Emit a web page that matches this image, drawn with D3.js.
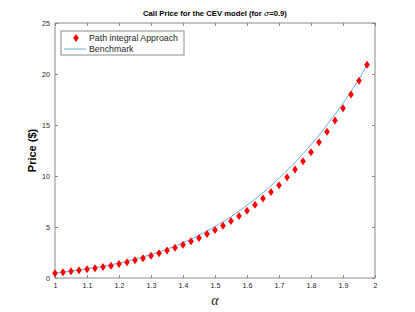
<!DOCTYPE html>
<html>
<head>
<meta charset="utf-8">
<script src="https://cdn.jsdelivr.net/npm/d3@7"></script>
<style>
  body { margin: 0; background: #fff; }
  svg { display: block; font-family: "Liberation Sans", Arial, sans-serif; }
</style>
</head>
<body>
<div id="grafica"></div>
<script>
  // datos
  const alphas = [1.0, 1.025, 1.05, 1.075, 1.1, 1.125, 1.15, 1.175, 1.2, 1.225,
    1.25, 1.275, 1.3, 1.325, 1.35, 1.375, 1.4, 1.425, 1.45, 1.475,
    1.5, 1.525, 1.55, 1.575, 1.6, 1.625, 1.65, 1.675, 1.7, 1.725,
    1.75, 1.775, 1.8, 1.825, 1.85, 1.875, 1.9, 1.925, 1.95, 1.975];
  const pathIntegral = [0.46, 0.56, 0.66, 0.75, 0.85, 0.95, 1.08, 1.21, 1.37, 1.54,
    1.73, 1.93, 2.17, 2.42, 2.70, 2.97, 3.27, 3.6, 3.92, 4.31,
    4.71, 5.13, 5.59, 6.08, 6.6, 7.19, 7.8, 8.42, 9.09, 9.88,
    10.64, 11.45, 12.32, 13.31, 14.34, 15.44, 16.65, 17.99, 19.34, 20.9];
  const benchmark = [0.5, 0.58, 0.68, 0.78, 0.9, 1.02, 1.15, 1.3, 1.47, 1.65,
    1.85, 2.07, 2.3, 2.55, 2.82, 3.12, 3.45, 3.8, 4.18, 4.6,
    5.05, 5.52, 6.02, 6.56, 7.13, 7.73, 8.37, 9.05, 9.77, 10.53,
    11.33, 12.18, 13.07, 14.01, 15.0, 16.04, 17.13, 18.28, 19.45, 20.95];
  const xTicks = [1, 1.1, 1.2, 1.3, 1.4, 1.5, 1.6, 1.7, 1.8, 1.9, 2];
  const yTicks = [0, 5, 10, 15, 20, 25];
  const legendNames = ["Path integral Approach", "Benchmark"];

  const width = 415, height = 312;
  const margin = { left: 55, right: 40, top: 23, bottom: 34 };
  const axisColor = "#8a8a8a";
  const textColor = "#262626";

  const svg = d3.select("#grafica")
    .append("svg")
    .attr("width", width)
    .attr("height", height);

  const x = d3.scaleLinear().domain([1, 2]).range([margin.left, width - margin.right]);
  const y = d3.scaleLinear().domain([0, 25]).range([height - margin.bottom, margin.top]);

  // Ejes (caja estilo matlab)
  const tl = 3;
  svg.append("g")
    .attr("transform", `translate(0,${y(0)})`)
    .call(d3.axisBottom(x).tickValues(xTicks).tickSize(-tl).tickPadding(5).tickFormat(d3.format("")))
    .call(g => g.select(".domain").remove());
  svg.append("g")
    .attr("transform", `translate(0,${y(25)})`)
    .call(d3.axisTop(x).tickValues(xTicks).tickSize(-tl).tickFormat(""))
    .call(g => g.select(".domain").remove());
  svg.append("g")
    .attr("transform", `translate(${x(1)},0)`)
    .call(d3.axisLeft(y).tickValues(yTicks).tickSize(-tl).tickPadding(5))
    .call(g => g.select(".domain").remove());
  svg.append("g")
    .attr("transform", `translate(${x(2)},0)`)
    .call(d3.axisRight(y).tickValues(yTicks).tickSize(-tl).tickFormat(""))
    .call(g => g.select(".domain").remove());

  svg.selectAll(".tick line").attr("stroke", axisColor);
  svg.selectAll(".tick text")
    .attr("fill", textColor)
    .style("font-size", "7.2px")
    .style("font-family", "Liberation Sans, Arial, sans-serif");

  svg.append("rect")
    .attr("x", x(1)).attr("y", y(25))
    .attr("width", x(2) - x(1)).attr("height", y(0) - y(25))
    .attr("fill", "none").attr("stroke", axisColor).attr("stroke-width", 1);

  // Linea benchmark
  const linea = d3.line()
    .x((d, i) => x(alphas[i]))
    .y(d => y(d));

  svg.append("path")
    .datum(benchmark)
    .attr("d", linea)
    .attr("fill", "none")
    .attr("stroke", "#3f9fdc")
    .attr("stroke-width", 0.8);

  // Rombos
  const rombo = "M0,-4 L2.8,0 L0,4 L-2.8,0 Z";
  svg.append("g")
    .selectAll("path")
    .data(pathIntegral)
    .enter()
    .append("path")
    .attr("d", rombo)
    .attr("transform", (d, i) => `translate(${x(alphas[i])},${y(d)})`)
    .attr("fill", "#ff0000");

  // Titulo
  const titulo = svg.append("text")
    .attr("x", (x(1) + x(2)) / 2)
    .attr("y", 16)
    .attr("text-anchor", "middle")
    .style("font-size", "7.7px")
    .style("font-weight", "bold")
    .attr("fill", "#000");
  titulo.append("tspan").text("Call Price for the CEV model (for ");
  titulo.append("tspan").text("σ").style("font-style", "italic").style("font-weight", "normal")
    .style("font-family", "DejaVu Serif, serif");
  titulo.append("tspan").text("=0.9)");

  // Etiquetas ejes
  svg.append("text")
    .attr("x", (x(1) + x(2)) / 2)
    .attr("y", 305)
    .attr("text-anchor", "middle")
    .style("font-size", "14px")
    .style("font-style", "italic")
    .style("font-family", "Liberation Serif, Times New Roman, serif")
    .attr("fill", textColor)
    .text("α");

  svg.append("text")
    .attr("transform", `translate(36,${(y(0) + y(25)) / 2}) rotate(-90)`)
    .attr("text-anchor", "middle")
    .style("font-size", "11px")
    .style("font-weight", "bold")
    .attr("fill", "#000")
    .text("Price ($)");

  // Leyenda
  const leg = svg.append("g");
  leg.append("rect")
    .attr("x", 61).attr("y", 31).attr("width", 123).attr("height", 24)
    .attr("fill", "#fff").attr("stroke", axisColor).attr("stroke-width", 1);
  leg.append("path")
    .attr("d", rombo)
    .attr("transform", "translate(76,38)")
    .attr("fill", "#ff0000");
  leg.append("line")
    .attr("x1", 64).attr("x2", 86).attr("y1", 49).attr("y2", 49)
    .attr("stroke", "#3f9fdc").attr("stroke-width", 0.8);
  leg.selectAll("text.nombre")
    .data(legendNames)
    .enter()
    .append("text")
    .attr("class", "nombre")
    .attr("x", 89)
    .attr("y", (d, i) => 41 + i * 11)
    .style("font-size", "8.8px")
    .attr("fill", textColor)
    .text(d => d);
</script>
</body>
</html>
